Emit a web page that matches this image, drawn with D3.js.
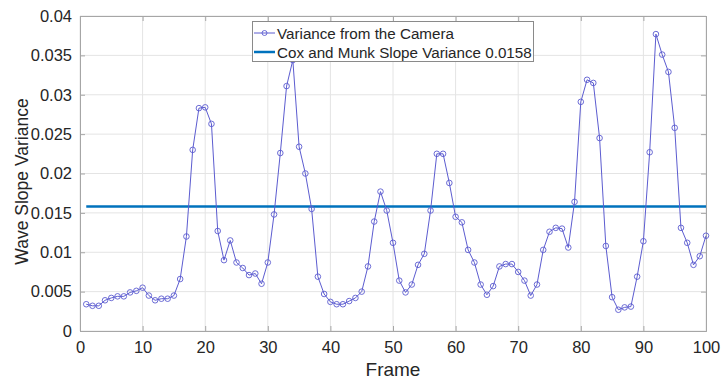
<!DOCTYPE html>
<html>
<head>
<meta charset="utf-8">
<script src="https://cdn.jsdelivr.net/npm/d3@7"></script>
<style>
  body{margin:0;background:#fff;}
  text{font-family:"Liberation Sans",Arial,sans-serif;fill:#262626;}
</style>
</head>
<body>
<svg id="chart" width="723" height="382"></svg>
<script>
// data
const frames = d3.range(1, 101)
const variance = [
  0.0034,0.0032,0.0032,0.0039,0.0042,0.0044,0.0044,0.0049,0.0051,0.0055,
  0.0045,0.0039,0.0041,0.0041,0.0045,0.0066,0.0120,0.0230,0.0283,0.0284,
  0.0263,0.0127,0.0090,0.0115,0.0087,0.0080,0.0071,0.0073,0.0060,0.0087,
  0.0148,0.0226,0.0311,0.0344,0.0234,0.0200,0.0155,0.0069,0.0047,0.0037,
  0.0034,0.0034,0.0038,0.0042,0.0050,0.0082,0.0139,0.0177,0.0153,0.0112,
  0.0064,0.0049,0.0059,0.0084,0.0098,0.0153,0.0225,0.0225,0.0188,0.0145,
  0.0138,0.0103,0.0087,0.0059,0.0046,0.0057,0.0082,0.0085,0.0085,0.0075,
  0.0064,0.0045,0.0059,0.0103,0.0126,0.0131,0.0130,0.0106,0.0164,0.0291,
  0.0319,0.0315,0.0245,0.0108,0.0043,0.0027,0.0030,0.0031,0.0069,0.0114,
  0.0227,0.0377,0.0351,0.0329,0.0258,0.0131,0.0112,0.0084,0.0095,0.0121
]
const coxMunk = 0.0158
const xTicks = d3.range(0, 101, 10)
const yTicks = [0,0.005,0.01,0.015,0.02,0.025,0.03,0.035,0.04]
const legendLabels = ["Variance from the Camera","Cox and Munk Slope Variance 0.0158"]

const svg = d3.select("#chart")
const pLeft=80, pRight=706, pTop=16, pBottom=331

const x = d3.scaleLinear().domain([0,100]).range([pLeft,pRight])
const y = d3.scaleLinear().domain([0,0.04]).range([pBottom,pTop])

// grid
const grid = svg.append("g").attr("stroke","#e4e4e4").attr("stroke-width",1)
xTicks.forEach(t=>{
  grid.append("line").attr("x1",x(t)).attr("x2",x(t)).attr("y1",pTop).attr("y2",pBottom)
})
yTicks.forEach(t=>{
  grid.append("line").attr("x1",pLeft).attr("x2",pRight).attr("y1",y(t)).attr("y2",y(t))
})

// axes (ticks inside, like matlab)
const fmtY = d => d===0 ? "0" : String(+d.toFixed(3))
svg.append("g").attr("transform",`translate(0,${pBottom})`)
  .call(d3.axisBottom(x).tickValues(xTicks).tickSize(-5).tickPadding(10).tickFormat(d3.format("d")))
svg.append("g").attr("transform",`translate(${pLeft},0)`)
  .call(d3.axisLeft(y).tickValues(yTicks).tickSize(-5).tickPadding(8).tickFormat(fmtY))
svg.append("g").attr("transform",`translate(0,${pTop})`)
  .call(d3.axisTop(x).tickValues(xTicks).tickSize(-5).tickFormat(""))
svg.append("g").attr("transform",`translate(${pRight},0)`)
  .call(d3.axisRight(y).tickValues(yTicks).tickSize(-5).tickFormat(""))
svg.selectAll(".domain").attr("stroke","#a6a6a6")
svg.selectAll(".tick line").attr("stroke","#a6a6a6")
svg.selectAll(".tick text").style("font-size","16.5px").attr("fill","#262626")

// axis titles
svg.append("text").attr("x",(pLeft+pRight)/2).attr("y",376)
  .attr("text-anchor","middle").style("font-size","19px").text("Frame")
svg.append("text").attr("transform",`translate(28,${(pTop+pBottom)/2 + 8}) rotate(-90)`)
  .attr("text-anchor","middle").style("font-size","17.5px").text("Wave Slope Variance")

// reference line
svg.append("line")
  .attr("x1",x(1)).attr("x2",x(100)).attr("y1",y(coxMunk)).attr("y2",y(coxMunk))
  .attr("stroke","#0072BD").attr("stroke-width",2.5)

// camera series
const lineColor = "#5c5cd0"
const line = d3.line().x((d,i)=>x(frames[i])).y(d=>y(d))
svg.append("path").datum(variance).attr("d",line)
  .attr("fill","none").attr("stroke",lineColor).attr("stroke-width",1)
svg.append("g").selectAll("circle").data(variance).join("circle")
  .attr("cx",(d,i)=>x(frames[i])).attr("cy",d=>y(d)).attr("r",2.8)
  .attr("fill","none").attr("stroke",lineColor).attr("stroke-width",0.9)

// legend
const lg = svg.append("g")
lg.append("rect").attr("x",252.5).attr("y",21.5).attr("width",281).attr("height",40)
  .attr("fill","#fff").attr("stroke","#8a8a8a").attr("stroke-width",1)
lg.append("line").attr("x1",254).attr("x2",275).attr("y1",33).attr("y2",33)
  .attr("stroke",lineColor).attr("stroke-width",1)
lg.append("circle").attr("cx",264.5).attr("cy",33).attr("r",2.5)
  .attr("fill","none").attr("stroke",lineColor).attr("stroke-width",0.9)
lg.append("line").attr("x1",254).attr("x2",275).attr("y1",52).attr("y2",52)
  .attr("stroke","#0072BD").attr("stroke-width",2.5)
legendLabels.forEach((t,i)=>{
  lg.append("text").attr("x",277).attr("y",39+i*19).style("font-size","15.2px").text(t)
})
</script>
</body>
</html>
